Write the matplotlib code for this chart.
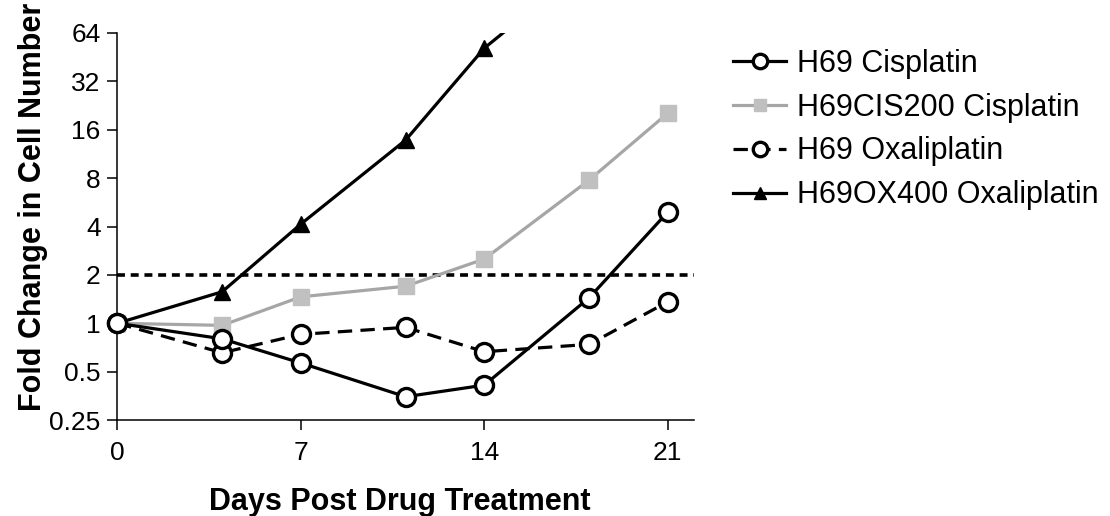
import matplotlib
matplotlib.use("Agg")
import matplotlib.pyplot as plt
from matplotlib.ticker import FixedLocator, FixedFormatter, NullLocator

plt.rcParams['font.family'] = ['Liberation Sans', 'DejaVu Sans']

# ---- data ----
days = [0, 4, 7, 11, 14, 18, 21]
h69_cis = [1.0, 0.80, 0.566, 0.349, 0.412, 1.44, 4.92]
h69cis200_cis = [1.0, 0.97, 1.46, 1.70, 2.51, 7.78, 20.3]
h69_oxa = [1.0, 0.655, 0.853, 0.943, 0.665, 0.739, 1.36]
days_ox400 = [0, 4, 7, 11, 14, 18]
h69ox400_oxa = [1.0, 1.57, 4.14, 13.8, 51.5, 175.0]
threshold = 2.0

labels = ["H69 Cisplatin", "H69CIS200 Cisplatin", "H69 Oxaliplatin", "H69OX400 Oxaliplatin"]
yticks = [0.25, 0.5, 1, 2, 4, 8, 16, 32, 64]
ytick_labels = ["0.25", "0.5", "1", "2", "4", "8", "16", "32", "64"]
xticks = [0, 7, 14, 21]

fig = plt.figure(figsize=(11.10, 5.16), dpi=100)
ax = fig.add_axes([117.3 / 1110, 96 / 516, (694 - 117.3) / 1110, (420 - 33) / 516])

lw = 2.3
h_ox400, = ax.plot(days_ox400, h69ox400_oxa, color='black', lw=lw, marker='^',
                   markersize=11.5, markerfacecolor='black', markeredgecolor='black',
                   zorder=3)
h_cis200, = ax.plot(days, h69cis200_cis, color='#a6a6a6', lw=lw, marker='s',
                    markersize=11.5, markerfacecolor='#c0c0c0', markeredgecolor='#c0c0c0',
                    zorder=4)
h_oxa, = ax.plot(days, h69_oxa, color='black', lw=lw, ls=(0, (4.5, 2.6)), marker='o',
                 markersize=13, markerfacecolor='white', markeredgecolor='black',
                 markeredgewidth=2.4, zorder=5, clip_on=False)
h_cis, = ax.plot(days, h69_cis, color='black', lw=lw, marker='o',
                 markersize=13, markerfacecolor='white', markeredgecolor='black',
                 markeredgewidth=2.4, zorder=6, clip_on=False)

ax.axhline(threshold, color='black', lw=2.6, ls=(0, (2.2, 1.6)), zorder=2)

ax.set_yscale('log', base=2)
ax.set_ylim(0.25, 64)
ax.set_xlim(0, 22)
ax.yaxis.set_major_locator(FixedLocator(yticks))
ax.yaxis.set_major_formatter(FixedFormatter(ytick_labels))
ax.yaxis.set_minor_locator(NullLocator())
ax.xaxis.set_major_locator(FixedLocator(xticks))

for s in ['top', 'right']:
    ax.spines[s].set_visible(False)
for s in ['left', 'bottom']:
    ax.spines[s].set_linewidth(1.1)

ax.tick_params(axis='both', which='major', direction='out', length=7, width=1.1,
               labelsize=19, pad=5)
ax.tick_params(axis='x', pad=8)

ax.set_xlabel("Days Post Drug Treatment", fontsize=22, fontweight='bold')
ax.xaxis.set_label_coords(0.49, -0.172)
ax.set_ylabel("Fold Change in Cell Number", fontsize=22, fontweight='bold')
ax.yaxis.set_label_coords(-0.12, 0.55)

fig.legend([h_cis, h_cis200, h_oxa, h_ox400], labels,
           loc='upper left', bbox_to_anchor=(733 / 1110, 1 - 49 / 516),
           frameon=False, fontsize=22, handlelength=1.75, handletextpad=0.33,
           labelspacing=0.45, borderpad=0, borderaxespad=0, markerscale=0.8)

fig.savefig("out.png", dpi=100)
